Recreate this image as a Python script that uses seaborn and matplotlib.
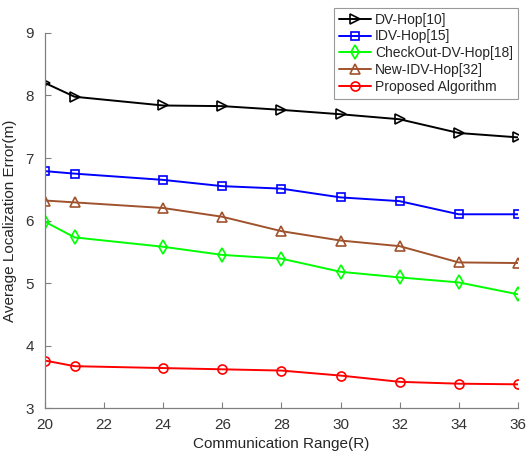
import matplotlib
matplotlib.use("Agg")
import matplotlib.pyplot as plt
import seaborn as sns
import pandas as pd

ranges = [20, 21, 24, 26, 28, 30, 32, 34, 36]
dv_hop = [8.20, 7.98, 7.84, 7.83, 7.77, 7.70, 7.62, 7.40, 7.33]
idv_hop = [6.79, 6.75, 6.65, 6.55, 6.51, 6.37, 6.31, 6.10, 6.10]
checkout_dv_hop = [5.98, 5.73, 5.58, 5.45, 5.39, 5.18, 5.09, 5.01, 4.82]
new_idv_hop = [6.32, 6.29, 6.20, 6.06, 5.83, 5.68, 5.59, 5.33, 5.32]
proposed = [3.76, 3.67, 3.64, 3.62, 3.60, 3.52, 3.42, 3.39, 3.38]

names = ["DV-Hop[10]", "IDV-Hop[15]", "CheckOut-DV-Hop[18]", "New-IDV-Hop[32]", "Proposed Algorithm"]
series = [dv_hop, idv_hop, checkout_dv_hop, new_idv_hop, proposed]
colors = ["#000000", "#0000FF", "#00FF00", "#A0522D", "#FF0000"]
markers = [">", "s", "d", "^", "o"]
msizes = [7.5, 6, 7, 7, 6.5]

sns.set_theme(style="white")
plt.rcParams['font.family'] = ['Liberation Sans', 'DejaVu Sans']

fig = plt.figure(figsize=(5.30, 4.58), dpi=100)
ax = fig.add_axes([0.085, 0.109, 0.892, 0.819])

for name, vals, c, m, ms in zip(names, series, colors, markers, msizes):
    df = pd.DataFrame({"R": ranges, "E": vals})
    sns.lineplot(data=df, x="R", y="E", ax=ax, color=c, marker=m, markersize=ms,
                 markerfacecolor="none", markeredgecolor=c, markeredgewidth=1.2,
                 linewidth=1.4, label=name)

ax.set_xlim(20, 36)
ax.set_ylim(3, 9)
ax.set_xticks(range(20, 37, 2))
ax.set_yticks(range(3, 10))
ax.set_xlabel("Communication Range(R)", fontsize=11, color="#262626", labelpad=4)
ax.set_ylabel("Average Localization Error(m)", fontsize=11, color="#262626", labelpad=6)
ax.tick_params(direction="in", length=4, width=0.8, colors="#808080", labelcolor="#333333", labelsize=11,
               bottom=True, left=True)
ax.tick_params(axis="x", pad=7)
ax.tick_params(axis="y", pad=8)
for s in ["top", "right"]:
    ax.spines[s].set_visible(False)
for s in ["left", "bottom"]:
    ax.spines[s].set_color("#808080")
    ax.spines[s].set_linewidth(0.9)

leg = ax.legend(loc="upper right", bbox_to_anchor=(0.977, 0.983), bbox_transform=fig.transFigure,
                fontsize=10, frameon=True, fancybox=False, borderpad=0.35, labelspacing=0.2,
                handlelength=2.3, handletextpad=0.3, borderaxespad=0)
leg.get_frame().set_edgecolor("#808080")
leg.get_frame().set_linewidth(0.8)

fig.savefig("out.png", dpi=100)
